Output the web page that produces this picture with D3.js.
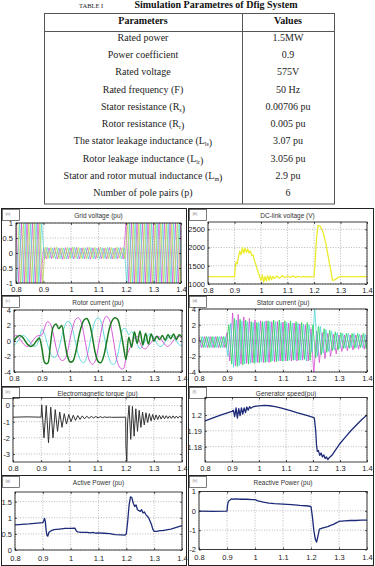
<!DOCTYPE html>
<html>
<head>
<meta charset="utf-8">
<script src="https://cdn.jsdelivr.net/npm/d3@7"></script>
<style>
  body { margin: 0; background: #fff; }
  svg { display: block; }
</style>
</head>
<body>
<svg id="chart" width="375" height="566"></svg>
<script>
// ---------------- table data ----------------
const paramNames = [
  'Rated power', 'Power coefficient', 'Rated voltage', 'Rated frequency (F)',
  'Stator resistance (R_s)', 'Rotor resistance (R_r)', 'The stator leakage inductance (L_ls)',
  'Rotor leakage inductance (L_lr)', 'Stator and rotor mutual inductance (L_m)', 'Number of pole pairs (p)'
]
const paramValues = ['1.5MW', '0.9', '575V', '50 Hz', '0.00706 pu', '0.005 pu', '3.07 pu', '3.056 pu', '2.9 pu', '6']

// ---------------- simulation data (time in s) ----------------
const xTicks = [0.8, 0.9, 1, 1.1, 1.2, 1.3, 1.4]
const tSample = d3.range(61).map(i => 0.8 + i * 0.01)   // one sample per half cycle / 10 ms
const phaseShift = [0, 0.00333, 0.00667]

// grid voltage peaks, one per half cycle
const gridVa = [1,-1,1,-1,1,-1,1,-1,1,-1,
  0.18,-0.2,0.17,-0.19,0.18,-0.2,0.16,-0.21,0.18,-0.19,0.17,-0.2,0.18,-0.2,0.17,-0.19,0.18,-0.21,0.17,-0.2,
  0.18,-0.19,0.16,-0.2,0.18,-0.2,0.17,-0.19,0.18,-0.2,
  1,-1,1,-1,1,-1,1,-1,1,-1,1,-1,1,-1,1,-1,1,-1,1,-1,1]
const gridVc = [-1,1,-1,1,-1,1,-1,1,-1,1,
  -0.2,0.19,-0.18,0.17,-0.2,0.18,-0.19,0.17,-0.2,0.18,-0.18,0.19,-0.2,0.17,-0.19,0.18,-0.2,0.18,-0.19,0.17,
  -0.2,0.18,-0.18,0.19,-0.2,0.17,-0.19,0.18,-0.2,0.18,
  -1,1,-1,1,-1,1,-1,1,-1,1,-1,1,-1,1,-1,1,-1,1,-1,1,-1]
const gridVb = [1,-1,1,-1,1,-1,1,-1,1,-1,
  0.2,-0.18,0.19,-0.17,0.2,-0.19,0.18,-0.2,0.19,-0.18,0.2,-0.17,0.19,-0.19,0.18,-0.2,0.2,-0.18,0.19,-0.17,
  0.2,-0.19,0.18,-0.18,0.19,-0.2,0.2,-0.17,0.18,-0.19,
  1,-1,1,-1,1,-1,1,-1,1,-1,1,-1,1,-1,1,-1,1,-1,1,-1,1]

// stator current peaks, one per half cycle
const statorIa = [0.5,-0.9,0.5,-0.9,0.5,-0.9,0.5,-0.9,0.5,-0.9,
  1.0,-2.6,3.5,-3.2,3.3,-3.0,3.0,-2.9,2.8,-2.8,2.6,-2.8,2.5,-2.8,2.5,-2.8,2.4,-2.7,2.4,-2.6,
  2.3,-2.6,2.2,-2.6,2.2,-2.6,2.1,-2.5,2.0,-2.6,
  1.5,-4.3,1.2,-2.8,1.0,-2.3,0.9,-2.0,0.8,-1.7,0.7,-1.4,0.7,-1.3,0.7,-1.2,0.7,-1.1,0.7,-1.1,0.7]
const statorIc = [-0.9,0.5,-0.9,0.5,-0.9,0.5,-0.9,0.5,-0.9,0.5,
  -2.0,2.2,-3.4,2.6,-3.2,2.5,-3.0,2.4,-2.9,2.3,-2.8,2.3,-2.7,2.4,-2.7,2.4,-2.6,2.4,-2.6,2.3,
  -2.6,2.3,-2.5,2.2,-2.5,2.2,-2.5,2.1,-2.6,2.0,
  -1.5,4.2,-2.0,1.8,-1.6,1.4,-1.4,1.2,-1.2,1.0,-1.0,0.9,-1.0,0.9,-0.9,0.9,-0.9,0.8,-0.9,0.8,-0.9]
const statorIb = [0.5,-0.9,0.5,-0.9,0.5,-0.9,0.5,-0.9,0.5,-0.9,
  2.0,-3.0,2.8,-3.3,2.7,-3.1,2.6,-3.0,2.4,-2.9,2.3,-2.8,2.4,-2.8,2.5,-2.7,2.6,-2.7,2.6,-2.6,
  2.5,-2.6,2.5,-2.5,2.4,-2.5,2.3,-2.4,2.3,-2.5,
  2.0,-2.2,1.8,-1.8,1.5,-1.5,1.3,-1.3,1.1,-1.2,1.0,-1.0,0.9,-1.0,0.9,-1.0,0.9,-0.9,0.9,-1.0,0.9]

// rotor current, every 10 ms
const rotorIa = [0,0.5,0.7,0.5,0,-0.5,-0.7,-0.5,0,0.4,
  -1.0,-2.8,-2.9,-0.5,1.8,2.2,1.6,2.0,0.2,-1.8,
  -2.7,-2.6,-1.5,0.3,1.8,2.7,2.9,2.2,0.5,-1.5,
  -2.6,-2.8,-2.0,-0.3,1.5,2.6,3.0,2.8,1.5,-0.5,
  -2.4,0.5,-0.8,1.2,-0.3,1.3,-0.5,1.0,-0.4,0.9,
  0.0,0.6,0.2,0.7,0.1,0.8,0.3,0.9,0.2,0.8,0.5]
const rotorIb = [0.6,0.7,0.3,-0.2,-0.6,-0.7,-0.3,0.2,0.6,0.7,
  0.8,1.8,2.5,2.2,1.0,-0.8,-2.0,-2.5,-2.4,-1.5,
  0.2,1.8,2.8,3.0,2.4,0.8,-1.2,-2.6,-3.0,-2.6,
  -1.0,1.0,2.6,3.2,2.8,1.2,-1.0,-2.8,-3.5,-3.6,
  -2.2,-1.2,-0.5,0.4,0.6,-0.2,-0.9,-1.0,-0.6,-0.2,
  0.3,0.6,0.5,0.0,-0.5,-0.7,-0.4,0.1,0.5,0.6,0.3]
const rotorIc = [-0.6,-0.2,0.3,0.7,0.6,0.2,-0.3,-0.7,-0.6,0.3,
  1.5,0.8,-0.5,-1.6,-2.1,-2.0,-1.0,0.5,1.8,2.5,
  2.4,1.4,-0.2,-1.8,-2.6,-2.8,-2.0,-0.4,1.3,2.6,
  3.0,2.6,1.0,-0.8,-2.3,-3.0,-2.9,-1.8,0.0,1.6,
  1.5,0.8,1.2,0.6,-0.4,-1.0,-0.6,0.2,0.8,0.9,
  0.4,-0.3,-0.7,-0.6,-0.1,0.4,0.7,0.5,0.0,-0.5,-0.6]

// [time, value]
const dcLink = [[0.8,1200],[0.9,1200],[0.903,1450],[0.906,1600],[0.91,1550],[0.915,1750],[0.92,1900],[0.925,1800],
  [0.93,2000],[0.935,1850],[0.94,1980],[0.945,1870],[0.95,1960],[0.955,1850],[0.96,1900],[0.965,1780],[0.97,1800],
  [0.975,1650],[0.98,1550],[0.985,1420],[0.99,1300],[0.995,1200],[1.0,1100],[1.005,1250],[1.01,1050],[1.015,1200],
  [1.02,1080],[1.025,1230],[1.03,1100],[1.035,1220],[1.04,1120],[1.045,1210],[1.05,1150],[1.06,1220],[1.07,1160],
  [1.08,1230],[1.09,1170],[1.1,1220],[1.11,1180],[1.12,1220],[1.13,1180],[1.14,1210],[1.15,1185],[1.16,1210],
  [1.17,1190],[1.18,1205],[1.19,1195],[1.2,1200],[1.205,1700],[1.21,2300],[1.215,2600],[1.225,2580],[1.235,2400],
  [1.245,2100],[1.255,1700],[1.265,1300],[1.27,1100],[1.28,1120],[1.29,1180],[1.3,1200],[1.4,1200]]

const emTorque = [[0.8,-0.72],[0.85,-0.7],[0.9,-0.72],[0.902,0.05],[0.91,-2.0],[0.918,0.0],[0.926,-2.3],[0.934,-0.1],
  [0.942,-2.0],[0.95,-0.25],[0.958,-1.6],[0.966,-0.4],[0.974,-1.35],[0.982,-0.5],[0.99,-1.15],[0.998,-0.55],
  [1.006,-1.0],[1.014,-0.6],[1.022,-0.92],[1.03,-0.62],[1.038,-0.86],[1.046,-0.64],[1.054,-0.82],[1.062,-0.66],
  [1.07,-0.79],[1.078,-0.67],[1.086,-0.77],[1.094,-0.68],[1.102,-0.76],[1.11,-0.69],[1.118,-0.75],[1.126,-0.7],
  [1.134,-0.74],[1.142,-0.71],[1.15,-0.73],[1.2,-0.72],[1.201,-2.5],[1.204,-3.45],[1.207,-1.0],[1.212,0.0],
  [1.218,-2.1],[1.224,-0.05],[1.23,-1.9],[1.236,-0.2],[1.242,-1.6],[1.248,-0.3],[1.254,-1.35],[1.26,-0.4],
  [1.266,-1.2],[1.272,-0.45],[1.278,-1.05],[1.284,-0.5],[1.29,-0.95],[1.296,-0.55],[1.302,-0.9],[1.308,-0.58],
  [1.314,-0.86],[1.32,-0.6],[1.326,-0.84],[1.332,-0.62],[1.338,-0.82],[1.344,-0.63],[1.35,-0.8],[1.356,-0.64],
  [1.362,-0.8],[1.368,-0.64],[1.374,-0.79],[1.38,-0.65],[1.386,-0.78],[1.392,-0.66],[1.4,-0.76]]

const genSpeed = [[0.8,1.1962],[0.82,1.1975],[0.84,1.1988],[0.86,1.2],[0.88,1.2012],[0.9,1.2022],[0.905,1.203],
  [0.91,1.199],[0.915,1.2045],[0.92,1.198],[0.925,1.204],[0.93,1.1995],[0.935,1.2045],[0.94,1.2005],[0.945,1.2045],
  [0.95,1.2015],[0.955,1.205],[0.96,1.203],[0.965,1.2052],[0.97,1.2042],[0.98,1.2053],[0.99,1.2055],[1.0,1.2057],
  [1.02,1.206],[1.04,1.2058],[1.06,1.2053],[1.08,1.2045],[1.1,1.2035],[1.12,1.2025],[1.14,1.2015],[1.16,1.2005],
  [1.18,1.1995],[1.2,1.1985],[1.205,1.198],[1.21,1.19],[1.213,1.181],[1.216,1.177],[1.22,1.1775],[1.225,1.1745],
  [1.23,1.176],[1.235,1.1735],[1.24,1.1748],[1.245,1.1725],[1.25,1.1735],[1.255,1.1718],[1.26,1.173],
  [1.27,1.1745],[1.28,1.177],[1.29,1.1795],[1.3,1.182],[1.32,1.186],[1.34,1.19],[1.36,1.1935],[1.38,1.197],[1.4,1.2]]

const activePower = [[0.8,0.78],[0.85,0.81],[0.9,0.85],[0.903,0.9],[0.906,0.98],[0.909,0.88],[0.912,0.6],
  [0.915,0.45],[0.918,0.43],[0.922,0.55],[0.93,0.6],[0.94,0.63],[0.96,0.65],[0.98,0.67],[1.0,0.67],[1.015,0.68],
  [1.02,0.6],[1.025,0.56],[1.04,0.55],[1.06,0.55],[1.07,0.53],[1.08,0.55],[1.09,0.52],[1.1,0.53],[1.12,0.52],
  [1.14,0.51],[1.16,0.48],[1.18,0.47],[1.195,0.46],[1.2,0.5],[1.205,0.9],[1.21,1.4],[1.215,1.65],[1.22,1.62],
  [1.225,1.45],[1.23,1.35],[1.235,1.4],[1.24,1.25],[1.25,1.2],[1.255,1.25],[1.26,1.15],[1.265,1.18],[1.27,1.1],
  [1.28,1.0],[1.29,0.8],[1.295,0.65],[1.3,0.58],[1.31,0.58],[1.32,0.6],[1.33,0.6],[1.34,0.62],[1.36,0.65],
  [1.38,0.7],[1.4,0.76]]

const reactivePower = [[0.8,-0.02],[0.85,-0.03],[0.9,-0.01],[0.902,0.3],[0.905,0.5],[0.91,0.55],[0.915,0.62],
  [0.92,0.6],[0.93,0.62],[0.95,0.6],[0.97,0.6],[0.99,0.58],[1.0,0.58],[1.01,0.52],[1.03,0.45],[1.05,0.4],
  [1.07,0.37],[1.1,0.35],[1.13,0.32],[1.16,0.28],[1.19,0.25],[1.2,0.22],[1.205,-0.3],[1.21,-1.0],[1.215,-1.45],
  [1.22,-1.62],[1.225,-1.3],[1.23,-0.95],[1.24,-0.9],[1.25,-0.85],[1.26,-0.82],[1.27,-0.75],[1.28,-0.7],
  [1.29,-0.62],[1.3,-0.55],[1.32,-0.52],[1.34,-0.5],[1.36,-0.5],[1.38,-0.48],[1.4,-0.48]]

// ---------------- drawing ----------------
const svg = d3.select('#chart')
const sans = 'Liberation Sans, Arial, sans-serif'
const serif = 'Liberation Serif, Times New Roman, serif'

// table title
svg.append('text')
  .attr('x', 79).attr('y', 7.5)
  .style('font', `6.5px ${serif}`)
  .attr('fill', '#222')
  .text('TABLE I')
svg.append('text')
  .attr('x', 216).attr('y', 7.8)
  .attr('text-anchor', 'middle')
  .style('font', `bold 10px ${serif}`)
  .attr('fill', '#111')
  .text('Simulation Parametres of Dfig System')

// table frame
const tbl = svg.append('g').attr('stroke', '#555').attr('fill', 'none')
tbl.append('rect').attr('x', 44.5).attr('y', 13.5).attr('width', 290).attr('height', 190.5)
tbl.append('line').attr('x1', 44.5).attr('x2', 334.5).attr('y1', 31.5).attr('y2', 31.5)
tbl.append('line').attr('x1', 242.5).attr('x2', 242.5).attr('y1', 13.5).attr('y2', 204)

const col1 = 143
const col2 = 288
svg.append('text').attr('x', col1).attr('y', 23.8).attr('text-anchor', 'middle')
  .style('font', `bold 10px ${serif}`).attr('fill', '#111').text('Parameters')
svg.append('text').attr('x', col2).attr('y', 23.8).attr('text-anchor', 'middle')
  .style('font', `bold 10px ${serif}`).attr('fill', '#111').text('Values')

// text with "_x" parts written as subscripts
const richText = (sel, str) => {
  str.split(/(_\w+)/).filter(s => s).forEach(part => {
    if (part.startsWith('_')) {
      sel.append('tspan').attr('font-size', 6).attr('dy', 2).text(part.slice(1))
      sel.append('tspan').attr('dy', -2).text('')
    } else {
      sel.append('tspan').text(part)
    }
  })
}

const rowY = d3.scaleLinear().domain([0, 9]).range([40.8, 196])
paramNames.forEach((name, i) => {
  const t = svg.append('text')
    .attr('x', col1).attr('y', rowY(i))
    .attr('text-anchor', 'middle')
    .style('font', `10px ${serif}`)
    .attr('fill', '#222')
  richText(t, name)
  svg.append('text')
    .attr('x', col2).attr('y', rowY(i))
    .attr('text-anchor', 'middle')
    .style('font', `10px ${serif}`)
    .attr('fill', '#222')
    .text(paramValues[i])
})

// helpers to build series
const phaseSeries = (vals, shift) => vals.map((v, i) => [tSample[i] + shift, v])
const sampled = vals => vals.map((v, i) => [tSample[i], v])

const magenta = '#d24ad2'
const cyan = '#4fd6d6'
const lime = '#b4d64a'
const green = '#2ad45a'
const dkGreen = '#1b7a22'
const navy = '#1d2a78'

const panels = [
  { tag: '(a)', title: 'Grid voltage (pu)', frame: [1.5, 208.5, 186.5, 295.5], plot: [16, 223, 181, 283],
    yDomain: [-1, 1], yTicks: [-1, -0.5, 0, 0.5, 1],
    series: [
      { data: phaseSeries(gridVa, phaseShift[0]), color: magenta, width: 0.7 },
      { data: phaseSeries(gridVc, phaseShift[1]), color: cyan, width: 0.7 },
      { data: phaseSeries(gridVb, phaseShift[2]), color: lime, width: 0.7 }
    ] },
  { tag: '(b)', title: 'DC-link voltage (V)', frame: [188.5, 208.5, 373.5, 295.5], plot: [208, 222, 367, 284],
    yDomain: [1000, 2700], yTicks: [1000, 1500, 2000, 2500],
    series: [{ data: dcLink, color: '#ecec2c', width: 1.3 }] },
  { tag: '(c)', title: 'Rotor current (pu)', frame: [1.5, 295.5, 186.5, 386.5], plot: [14, 310, 182, 372],
    yDomain: [-4, 4], yTicks: [-4, -2, 0, 2, 4],
    series: [
      { data: sampled(rotorIc), color: cyan, width: 0.9, curve: d3.curveCatmullRom },
      { data: sampled(rotorIb), color: magenta, width: 0.9, curve: d3.curveCatmullRom },
      { data: sampled(rotorIa), color: dkGreen, width: 1.5, curve: d3.curveCatmullRom }
    ] },
  { tag: '(d)', title: 'Stator current (pu)', frame: [188.5, 295.5, 373.5, 386.5], plot: [199, 309, 367, 372],
    yDomain: [-4, 4], yTicks: [-4, -2, 0, 2, 4],
    series: [
      { data: phaseSeries(statorIa, phaseShift[0]), color: magenta, width: 0.8 },
      { data: phaseSeries(statorIc, phaseShift[1]), color: cyan, width: 0.8 },
      { data: phaseSeries(statorIb, phaseShift[2]), color: green, width: 0.8 }
    ] },
  { tag: '(e)', title: 'Electromagnetic torque (pu)', frame: [1.5, 386.5, 186.5, 475.5], plot: [13, 397.5, 182, 462],
    yDomain: [-3.5, 0.5], yTicks: [-3, -2, -1, 0],
    series: [{ data: emTorque, color: '#333', width: 1 }] },
  { tag: '(f)', title: 'Generator speed(pu)', frame: [188.5, 386.5, 373.5, 475.5], plot: [205, 397.5, 367, 462],
    yDomain: [1.1703, 1.211], yTicks: [1.18, 1.19, 1.2],
    series: [{ data: genSpeed, color: navy, width: 1.3 }] },
  { tag: '(g)', title: 'Active Power (pu)', frame: [1.5, 475.5, 186.5, 565.5], plot: [15, 492, 182, 550],
    yDomain: [0, 1.8], yTicks: [0, 0.5, 1, 1.5], xPad: 5.5,
    series: [{ data: activePower, color: navy, width: 1.3 }] },
  { tag: '(h)', title: 'Reactive Power (pu)', frame: [188.5, 475.5, 373.5, 565.5], plot: [199, 491.5, 367, 549.5],
    yDomain: [-2, 1], yTicks: [-2, -1, 0, 1], xPad: 5.5,
    series: [{ data: reactivePower, color: navy, width: 1.3 }] }
]

const fmt = d => String(+d.toFixed(3))

const drawPanel = (p, idx) => {
  const [fx0, fy0, fx1, fy1] = p.frame
  const [px0, py0, px1, py1] = p.plot
  const g = svg.append('g')

  // panel frame + small tag box
  g.append('rect')
    .attr('x', fx0).attr('y', fy0).attr('width', fx1 - fx0).attr('height', fy1 - fy0)
    .attr('fill', '#fff').attr('stroke', '#222').attr('stroke-width', 1)
  g.append('rect')
    .attr('x', fx0 + 1).attr('y', fy0 + 1).attr('width', 17).attr('height', 11)
    .attr('fill', 'none').attr('stroke', '#444').attr('stroke-width', 0.7)
  g.append('text')
    .attr('x', fx0 + 4).attr('y', fy0 + 6)
    .style('font', `4px ${sans}`).attr('fill', '#777')
    .text(p.tag)
  g.append('text')
    .attr('x', (px0 + px1) / 2).attr('y', fy0 + 9)
    .attr('text-anchor', 'middle')
    .style('font', `6.5px ${sans}`).attr('fill', '#333')
    .text(p.title)

  const x = d3.scaleLinear().domain([0.8, 1.4]).range([px0, px1])
  const y = d3.scaleLinear().domain(p.yDomain).range([py1, py0])

  // dotted grid
  const grid = g.append('g').attr('stroke', '#8a8a8a').attr('stroke-width', 0.6).attr('stroke-dasharray', '1,1.6')
  grid.selectAll('.gx').data(xTicks).enter().append('line')
    .attr('x1', d => x(d)).attr('x2', d => x(d)).attr('y1', py0).attr('y2', py1)
  grid.selectAll('.gy').data(p.yTicks).enter().append('line')
    .attr('x1', px0).attr('x2', px1).attr('y1', d => y(d)).attr('y2', d => y(d))

  // data lines, clipped to the axes box
  const clipId = `clip${idx}`
  g.append('clipPath').attr('id', clipId)
    .append('rect').attr('x', px0).attr('y', py0).attr('width', px1 - px0).attr('height', py1 - py0)
  const lines = g.append('g').attr('clip-path', `url(#${clipId})`)
  p.series.forEach(s => {
    const line = d3.line().x(d => x(d[0])).y(d => y(d[1])).curve(s.curve || d3.curveLinear)
    lines.append('path')
      .datum(s.data)
      .attr('d', line)
      .attr('fill', 'none')
      .attr('stroke', s.color)
      .attr('stroke-width', s.width)
      .attr('stroke-linejoin', 'round')
  })

  // axes
  const xAxis = d3.axisBottom(x).tickValues(xTicks).tickFormat(fmt)
    .tickSizeInner(-2).tickSizeOuter(0).tickPadding(p.xPad || 4)
  const yAxis = d3.axisLeft(y).tickValues(p.yTicks).tickFormat(fmt)
    .tickSizeInner(-2).tickSizeOuter(0).tickPadding(3)
  const ax = g.append('g').attr('transform', `translate(0,${py1})`).call(xAxis)
  const ay = g.append('g').attr('transform', `translate(${px0},0)`).call(yAxis)
  const axTop = g.append('g').attr('transform', `translate(0,${py0})`)
    .call(d3.axisTop(x).tickValues(xTicks).tickFormat('').tickSizeInner(-2).tickSizeOuter(0))
  const ayRight = g.append('g').attr('transform', `translate(${px1},0)`)
    .call(d3.axisRight(y).tickValues(p.yTicks).tickFormat('').tickSizeInner(-2).tickSizeOuter(0))
  ;[ax, ay, axTop, ayRight].forEach(a => {
    a.select('.domain').remove()
    a.selectAll('.tick line').attr('stroke', '#111').attr('stroke-width', 0.7)
    a.selectAll('text').style('font', `7.5px ${sans}`).attr('fill', '#222')
  })

  // axes box
  g.append('rect')
    .attr('x', px0).attr('y', py0).attr('width', px1 - px0).attr('height', py1 - py0)
    .attr('fill', 'none').attr('stroke', '#111').attr('stroke-width', 0.8)
}

panels.forEach(drawPanel)
</script>
</body>
</html>
